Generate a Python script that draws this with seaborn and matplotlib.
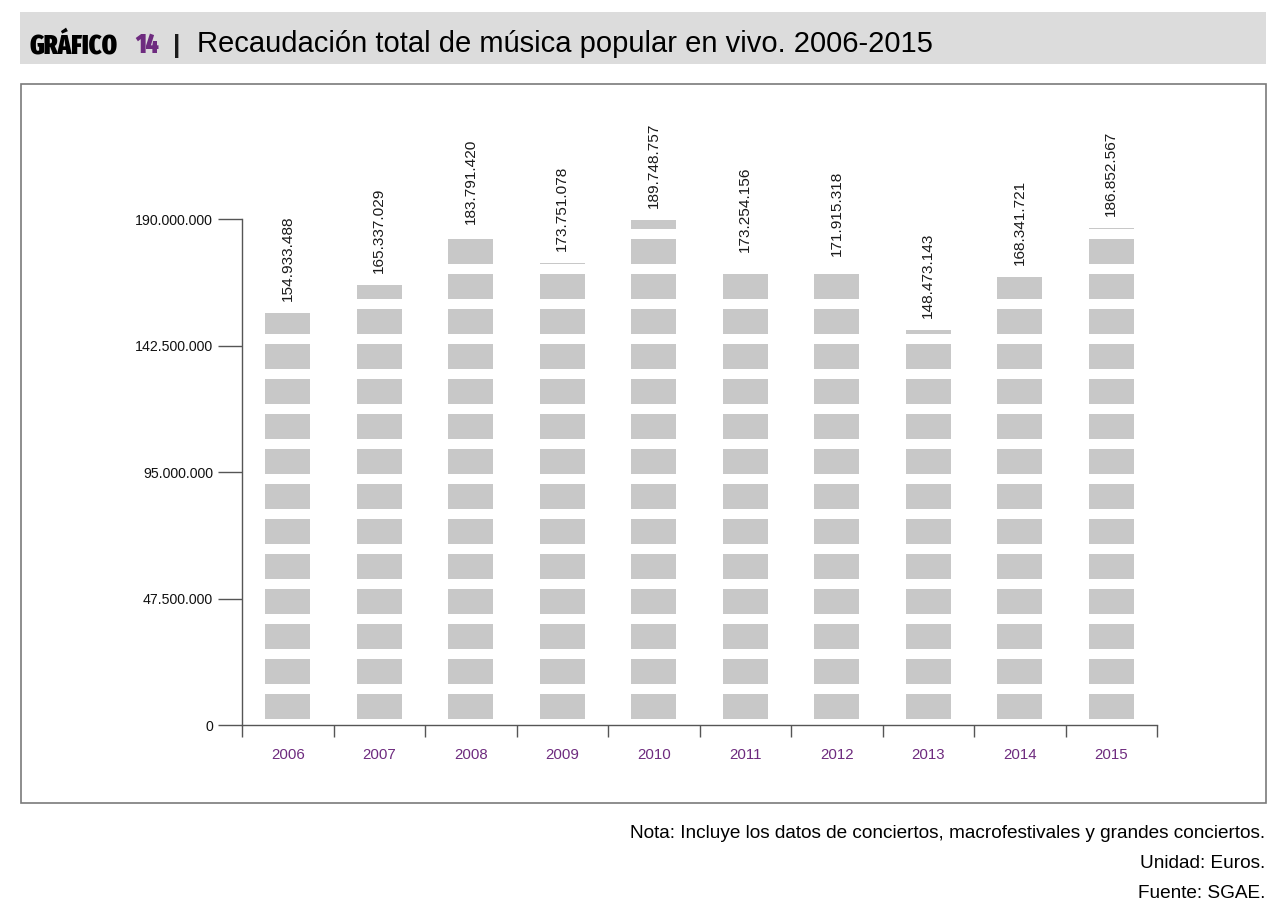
import matplotlib
matplotlib.use("Agg")
import matplotlib.pyplot as plt
import seaborn as sns
import pandas as pd
import numpy as np
from matplotlib.patches import Rectangle
from matplotlib import font_manager as fm

# ---------------- data ----------------
years = ["2006", "2007", "2008", "2009", "2010", "2011", "2012", "2013", "2014", "2015"]
values = [154933488, 165337029, 183791420, 173751078, 189748757,
          173254156, 171915318, 148473143, 168341721, 186852567]
value_labels = ["154.933.488", "165.337.029", "183.791.420", "173.751.078", "189.748.757",
                "173.254.156", "171.915.318", "148.473.143", "168.341.721", "186.852.567"]
ytick_values = [0, 47500000, 95000000, 142500000, 190000000]
ytick_labels = ["0", "47.500.000", "95.000.000", "142.500.000", "190.000.000"]

title_tag = "GRÁFICO"
title_num = "14"
title_text = "Recaudación total de música popular en vivo. 2006-2015"
footer_lines = ["Nota: Incluye los datos de conciertos, macrofestivales y grandes conciertos.",
                "Unidad: Euros.",
                "Fuente: SGAE."]

# ---------------- style ----------------
sns.set_theme(style="white")
plt.rcParams['font.family'] = ['Liberation Sans', 'DejaVu Sans']

BAR = "#c8c8c8"
PURPLE = "#6e2b7f"
AXCOL = "#555555"

W, H = 1286, 909
fig = plt.figure(figsize=(W / 100, H / 100), dpi=100)
fig.patch.set_facecolor("white")


def fx(px):
    return px / W


def fy(py):
    return 1 - py / H


ax_l, ax_r, ax_b, ax_t = 242, 1157, 725.3, 99.5
ax = fig.add_axes([fx(ax_l), fy(ax_b), (ax_r - ax_l) / W, (ax_b - ax_t) / H])
ax.set_facecolor("none")

df = pd.DataFrame({"year": years, "value": values})
sns.barplot(data=df, x="year", y="value", color=BAR, saturation=1, width=0.49,
            linewidth=0, ax=ax, zorder=1)

ymax = 235e6
ax.set_ylim(0, ymax)
ax.set_xlim(-0.5, len(years) - 0.5)

# pictogram-like white gaps across bars
ppu = (ax_b - ax_t) / ymax  # pixels per euro
base_gap = 6 / ppu
block = 25 / ppu
pitch = 35 / ppu
ax.axhspan(0, base_gap, color="white", lw=0, zorder=1.5)
k = 0
while True:
    start = base_gap + block + k * pitch
    if start > ymax:
        break
    ax.axhspan(start, start + (pitch - block), color="white", lw=0, zorder=1.5)
    k += 1

# value labels
for i, (v, lab) in enumerate(zip(values, value_labels)):
    ax.annotate(lab, xy=(i, v), xytext=(0, 8.6), textcoords="offset points",
                rotation=90, ha="center", va="bottom", fontsize=11.1, color="#1a1a1a",
                zorder=5)

# axes styling
for s in ["top", "right"]:
    ax.spines[s].set_visible(False)
for s in ["left", "bottom"]:
    ax.spines[s].set_color(AXCOL)
    ax.spines[s].set_linewidth(1.0)
    ax.spines[s].set_zorder(3)
ax.spines["left"].set_bounds(0, 190e6)

ax.set_yticks(ytick_values)
ax.set_yticklabels(ytick_labels)
ax.tick_params(axis="y", left=True, length=17.3, width=1.0, color=AXCOL, pad=3.6,
               labelsize=10.2, labelcolor="#111111", direction="out")

ax.set_xticks(range(len(years)))
ax.set_xticklabels(years)
ax.tick_params(axis="x", which="major", bottom=True, length=0, pad=16, labelsize=10.8,
               labelcolor=PURPLE)
ax.set_xticks(np.arange(-0.5, len(years), 1), minor=True)
ax.tick_params(axis="x", which="minor", bottom=True, length=8.6, width=1.0, color=AXCOL,
               direction="out")
ax.set_xlabel("")
ax.set_ylabel("")
ax.grid(False)

# banner
fig.patches.append(Rectangle((fx(20), fy(64)), (1266 - 20) / W, (64 - 12) / H,
                             transform=fig.transFigure, facecolor="#dcdcdc",
                             edgecolor="none", zorder=0))
# chart frame
fig.patches.append(Rectangle((fx(20.5), fy(803)), (1266 - 20.5) / W, (803 - 84) / H,
                             transform=fig.transFigure, facecolor="none",
                             edgecolor="#7a7a7a", lw=1.2, zorder=0))


# ---- pick a condensed heavy font if one is installed ----
def font_score(f):
    n = (f.fname.split("/")[-1] + " " + f.name + " " + str(f.style)).lower()
    if "italic" in n or "oblique" in n:
        return -1
    s = 0
    if "condensed" in n or "narrow" in n or "compressed" in n:
        s += 10
        if "semicondensed" in n or "semi" in n:
            s -= 4
        if "extracondensed" in n or "extra condensed" in n:
            s += 1
    else:
        return -1
    if "black" in n or "heavy" in n:
        s += 5
    elif "extrabold" in n:
        s += 4
    elif "bold" in n:
        s += 3
    if "mono" in n or "serif" in n and "sans" not in n:
        s -= 6
    if "sans" in n:
        s += 1
    return s


cands = sorted(fm.fontManager.ttflist, key=font_score, reverse=True)
if cands and font_score(cands[0]) > 0:
    fp_tag = fm.FontProperties(fname=cands[0].fname)
else:
    fp_tag = fm.FontProperties(family="DejaVu Sans", weight="heavy")

base = 20
fp_tag.set_size(base)
t_tag = fig.text(fx(30), fy(53), title_tag, fontproperties=fp_tag, color="black",
                 va="baseline")
fig.canvas.draw()
r = fig.canvas.get_renderer()
bb = t_tag.get_window_extent(r)
# target: width 88 px, height (with accent) about 28 px
size = min(base * 88 / bb.width, base * 28 / bb.height)
fp_tag.set_size(size)
t_tag.set_fontproperties(fp_tag)
fp_num = fp_tag.copy()
t_num = fig.text(fx(135), fy(53), title_num, fontproperties=fp_num, color=PURPLE,
                 va="baseline")

fig.text(fx(173), fy(53), "|", fontsize=19, fontweight="bold", color="#1a1a1a",
         va="baseline")
fig.text(fx(197), fy(52.5), title_text, fontsize=21, color="black", va="baseline")

for txt, y in zip(footer_lines, [834, 863.5, 893]):
    fig.text(fx(1265), fy(y), txt, fontsize=13.7, color="black", ha="right", va="center")

fig.savefig("out.png", dpi=100)
